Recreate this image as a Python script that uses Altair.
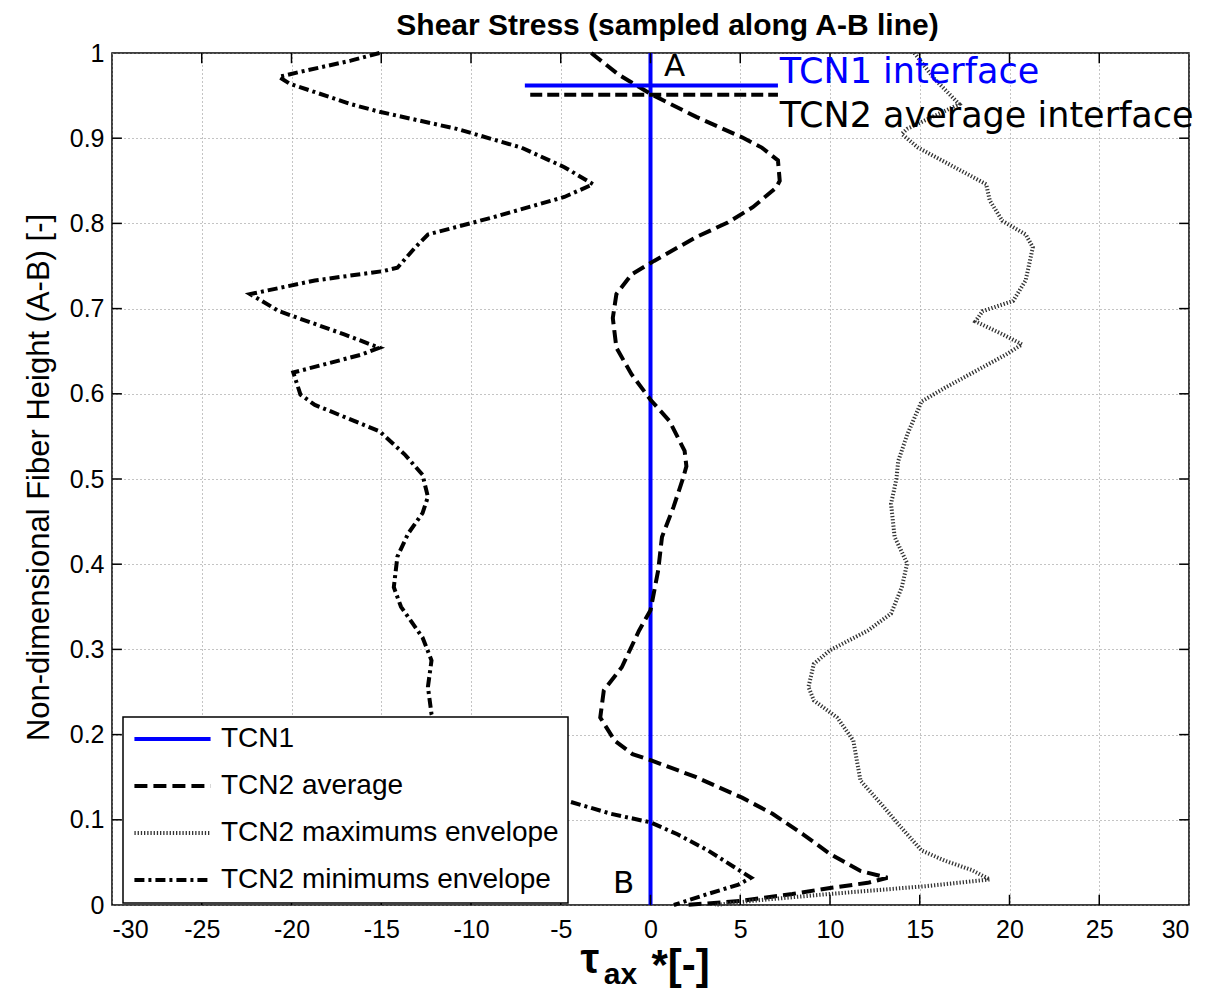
import altair as alt
import pandas as pd

series_names = ["TCN1", "TCN2 average", "TCN2 maximums envelope", "TCN2 minimums envelope"]
series_colors = ["#0000ff", "#000000", "#333333", "#000000"]

tcn1_x = [0, 0]
tcn1_y = [0, 1]

avg_x = [-3.3, -1.8, 0, 2.55, 5.1, 6.2, 7.1, 7.2, 7.0, 5.7, 4.3, 2.55, 0.2, -1.06, -1.9, -2.1,
         -1.9, -1.06, 0, 1.06, 1.9, 2.0, 1.8, 1.28, 0.64, 0.43, 0, -0.64, -1.6, -2.6, -2.8, -2.0,
         -1.0, 0, 2.55, 5.1, 6.8, 8.5, 10, 11.7, 13.2, 12.1, 10, 7.9, 5.1, 2.0]
avg_y = [1.0, 0.975, 0.952, 0.925, 0.901, 0.889, 0.874, 0.85, 0.842, 0.819, 0.801, 0.784, 0.756,
         0.74, 0.717, 0.689, 0.654, 0.623, 0.593, 0.568, 0.533, 0.515, 0.5, 0.467, 0.432, 0.393,
         0.346, 0.322, 0.279, 0.252, 0.220, 0.193, 0.177, 0.170, 0.150, 0.126, 0.107, 0.083,
         0.06, 0.040, 0.032, 0.026, 0.02, 0.013, 0.005, 0.0]

max_x = [14.7, 15.8, 17.2, 14.3, 14.0, 14.9, 18.7, 18.9, 19.6, 20.9, 21.3, 20.9, 20.2, 18.5, 18.1,
         19.6, 20.7, 19.8, 16.4, 15.1, 14.3, 13.8, 13.7, 13.4, 13.6, 14.3, 14.0, 13.4, 12.1, 10.0,
         9.1, 8.8, 9.1, 10.4, 11.3, 11.5, 11.7, 13.0, 13.8, 15.1, 16.4, 17.9, 18.9, 15.3, 10.0,
         5.7, 3.6]
max_y = [1.0, 0.97, 0.94, 0.911, 0.905, 0.889, 0.846, 0.827, 0.803, 0.787, 0.772, 0.733, 0.709,
         0.697, 0.685, 0.670, 0.658, 0.646, 0.607, 0.591, 0.552, 0.521, 0.5, 0.471, 0.432, 0.401,
         0.373, 0.342, 0.322, 0.299, 0.283, 0.256, 0.240, 0.220, 0.193, 0.169, 0.146, 0.115,
         0.095, 0.064, 0.052, 0.041, 0.030, 0.022, 0.013, 0.005, 0.0]

min_x = [-15.1, -16.7, -19.5, -20.7, -20.1, -16.7, -15.1, -10.8, -7.2, -4.8, -3.2, -4.8, -8.8,
         -12.4, -13.1, -14.1, -14.9, -18.7, -22.3, -20.7, -17.1, -15.1, -16.1, -19.9, -19.5,
         -18.7, -15.1, -13.7, -12.7, -12.4, -12.7, -13.5, -14.1, -14.3, -13.9, -12.7, -12.2,
         -12.4, -12.2, -11.5, -9.5, -7.0, -4.6, -2.2, 0, 1.5, 3.2, 4.7, 5.6, 4.9, 3.2, 1.3]
min_y = [1.0, 0.991, 0.978, 0.972, 0.964, 0.940, 0.931, 0.911, 0.889, 0.866, 0.846, 0.831, 0.807,
         0.787, 0.772, 0.748, 0.744, 0.733, 0.717, 0.697, 0.670, 0.654, 0.646, 0.625, 0.599,
         0.587, 0.556, 0.529, 0.505, 0.479, 0.460, 0.436, 0.409, 0.373, 0.350, 0.314, 0.287,
         0.256, 0.224, 0.19, 0.16, 0.138, 0.122, 0.107, 0.097, 0.083, 0.064, 0.044, 0.032,
         0.024, 0.013, 0.0]

x_ticks = [-30, -25, -20, -15, -10, -5, 0, 5, 10, 15, 20, 25, 30]
y_ticks = [0, 0.1, 0.2, 0.3, 0.4, 0.5, 0.6, 0.7, 0.8, 0.9, 1]

# interface markers
iface_x1 = [-7.0, -6.7]
iface_x2 = [7.1, 7.1]
iface_y = [0.962, 0.951]
iface_labels = ["TCN1 interface", "TCN2 average interface"]
iface_label_x = [7.2, 7.2]
iface_label_y = [0.978, 0.926]

point_labels = ["A", "B"]
point_label_x = [1.35, -1.5]
point_label_y = [0.984, 0.025]

# x-axis title pieces: tau, subscript "ax", "*[-]"
xtitle_parts = ["τ", "ax", "*[-]"]
xtitle_x = [-3.9, -2.6, 0.05]
xtitle_y = [-0.080, -0.093, -0.087]
xtitle_size = [42, 30, 42]

rows = []
for name, xs, ys in zip(series_names, [tcn1_x, avg_x, max_x, min_x], [tcn1_y, avg_y, max_y, min_y]):
    for i, (x, y) in enumerate(zip(xs, ys)):
        rows.append({"series": name, "tau": x, "h": y, "i": i})
df = pd.DataFrame(rows)

xscale = alt.Scale(domain=[-30, 30], nice=False, zero=False)
yscale = alt.Scale(domain=[0, 1], nice=False, zero=False)

xaxis = alt.Axis(values=x_ticks, title=None,
                 labelExpr="(datum.value < 0 ? '-' : '') + abs(datum.value)",
                 labelFont="Liberation Sans", labelFontSize=25, labelColor="black",
                 labelPadding=12, ticks=False, domain=False, grid=True,
                 gridDash=[1, 3], gridColor="#888888", gridWidth=1)
yaxis = alt.Axis(values=y_ticks, title="Non-dimensional Fiber Height (A-B) [-]",
                 labelExpr="datum.value == 0 ? '0' : (datum.value == 1 ? '1' : format(datum.value, '.1f'))",
                 titleFont="Liberation Sans", titleFontSize=31, titleFontWeight="normal",
                 titleColor="black", titleAngle=-90, titleX=-57, titleY=424,
                 titleAlign="center", titleBaseline="bottom",
                 labelFont="Liberation Sans", labelFontSize=25, labelColor="black",
                 labelPadding=8, ticks=False, domain=False, grid=True,
                 gridDash=[1, 3], gridColor="#888888", gridWidth=1)


def X(field):
    return alt.X(field, type="quantitative", scale=xscale, axis=xaxis)


def Y(field):
    return alt.Y(field, type="quantitative", scale=yscale, axis=yaxis)


lines = alt.Chart(df).mark_line(strokeWidth=4, strokeCap="butt").encode(
    x=X("tau"),
    y=Y("h"),
    color=alt.Color("series:N", title=None,
                    scale=alt.Scale(domain=series_names, range=series_colors)),
    strokeDash=alt.StrokeDash("series:N", title=None,
                              scale=alt.Scale(domain=series_names,
                                              range=[[1, 0], [13, 6], [1.3, 1.9], [10, 4, 3, 4]])),
    order="i:Q",
)

# inside ticks (MATLAB style)
tick_rows = []
for v in x_ticks[1:-1]:
    tick_rows.append({"tau": v, "tau2": v, "h": 0.0, "h2": 0.012})
    tick_rows.append({"tau": v, "tau2": v, "h": 0.988, "h2": 1.0})
for v in y_ticks[1:-1]:
    tick_rows.append({"tau": -30, "tau2": -29.45, "h": v, "h2": v})
    tick_rows.append({"tau": 29.45, "tau2": 30, "h": v, "h2": v})
ticks = alt.Chart(pd.DataFrame(tick_rows)).mark_rule(color="black", strokeWidth=1.5).encode(
    x=X("tau"), x2="tau2:Q", y=Y("h"), y2="h2:Q",
)

iface_df = pd.DataFrame({"tau": iface_x1, "tau2": iface_x2, "h": iface_y,
                         "label": iface_labels, "lx": iface_label_x, "ly": iface_label_y})
iface_blue = alt.Chart(iface_df.iloc[[0]]).mark_rule(color="#0000ff", strokeWidth=4).encode(
    x=X("tau"), x2="tau2:Q", y=Y("h"))
iface_black = alt.Chart(iface_df.iloc[[1]]).mark_rule(
    color="black", strokeWidth=4, strokeDash=[12, 5]).encode(
    x=X("tau"), x2="tau2:Q", y=Y("h"))

txt_blue = alt.Chart(iface_df.iloc[[0]]).mark_text(
    align="left", baseline="middle", font="DejaVu Sans", fontSize=35, color="#0000ff").encode(
    x=X("lx"), y=Y("ly"), text="label:N")
txt_black = alt.Chart(iface_df.iloc[[1]]).mark_text(
    align="left", baseline="middle", font="DejaVu Sans", fontSize=35, color="black").encode(
    x=X("lx"), y=Y("ly"), text="label:N")

pt_df = pd.DataFrame({"t": point_labels, "px": point_label_x, "py": point_label_y})
pt_text = alt.Chart(pt_df).mark_text(
    align="center", baseline="middle", font="DejaVu Sans", fontSize=31, color="black").encode(
    x=X("px"), y=Y("py"), text="t:N")

xt_df = pd.DataFrame({"t": xtitle_parts, "px": xtitle_x, "py": xtitle_y, "s": xtitle_size})
xt_text = alt.Chart(xt_df).mark_text(
    align="left", baseline="alphabetic", font="Liberation Sans", fontWeight="bold",
    color="black").encode(
    x=X("px"), y=Y("py"), text="t:N",
    size=alt.Size("s:Q", scale=None, legend=None))

chart = alt.layer(lines, ticks, iface_blue, iface_black, txt_blue, txt_black, pt_text,
                  xt_text).properties(
    width=1077, height=852,
    autosize=alt.AutoSizeParams(type="none"),
    padding={"left": 104, "top": 45, "right": 15, "bottom": 85},
    title=alt.TitleParams("Shear Stress (sampled along A-B line)", font="Liberation Sans",
                          fontSize=30, fontWeight="bold", color="black", offset=0,
                          dx=17, anchor="middle"),
).configure_view(
    stroke="black", strokeWidth=1.5
).configure_legend(
    orient="none", legendX=11, legendY=664,
    symbolType="stroke", symbolSize=5800, symbolStrokeWidth=4,
    clipHeight=26, rowPadding=19, padding=9,
    labelFont="Liberation Sans", labelFontSize=28, labelColor="black", labelOffset=8,
    labelLimit=500,
    fillColor="white", strokeColor="black", strokeWidth=1.5, cornerRadius=0,
)

chart.save("out.html", embed_options={"renderer": "svg", "actions": False})
